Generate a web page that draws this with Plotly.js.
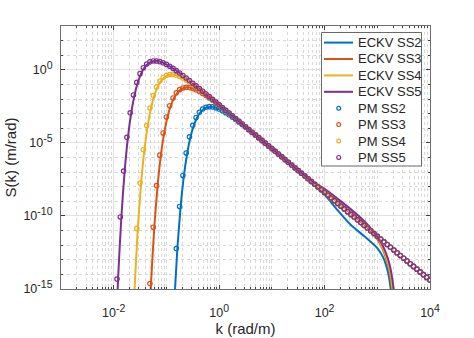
<!DOCTYPE html>
<html>
<head>
<meta charset="utf-8">
<script src="https://cdn.plot.ly/plotly-3.0.1.min.js"></script>
<style>html,body{margin:0;padding:0;background:#fff;}#chart{width:474px;height:338px;}</style>
</head>
<body>
<div id="chart"></div>
<script>
// ---- Pierson-Moskowitz markers (shared wavenumber grid, rad/m) ----
const kPM = [
  0.01155,0.01334,0.0154,0.01778,0.02054,0.02371,0.02738,0.03162,0.03652,0.04217,0.0487,0.05623,0.06494,0.07499,0.0866,
  0.1,0.1155,0.1334,0.154,0.1778,0.2054,0.2371,0.2738,0.3162,0.3652,0.4217,0.487,0.5623,0.6494,0.7499,0.866,
  1,1.155,1.334,1.54,1.778,2.054,2.371,2.738,3.162,3.652,4.217,4.87,5.623,6.494,7.499,8.66,
  10,11.55,13.34,15.4,17.78,20.54,23.71,27.38,31.62,36.52,42.17,48.7,56.23,64.94,74.99,86.6,
  100,115.5,133.4,154,177.8,205.4,237.1,273.8,316.2,365.2,421.7,487,562.3,649.4,749.9,866,
  1000,1155,1334,1540,1778,2054,2371,2738,3162,3652,4217,4870,5623,6494,7499,8660,
  10000
];
const pmSS2 = [
  null,null,null,null,null,null,null,null,null,null,null,null,null,null,null,
  null,null,null,5.89e-13,4.47e-10,5.89e-8,2.04e-6,2.6e-5,1.585e-4,5.47e-4,1.25e-3,2.08e-3,2.74e-3,3.02e-3,2.92e-3,2.55e-3,
  2.07e-3,1.59e-3,1.17e-3,8.36e-4,5.82e-4,3.99e-4,2.7e-4,1.8e-4,1.2e-4,7.91e-5,5.2e-5,3.41e-5,2.23e-5,1.46e-5,9.48e-6,6.18e-6,
  4.05e-6,2.63e-6,1.71e-6,1.11e-6,7.2e-7,4.68e-7,3.04e-7,1.97e-7,1.28e-7,8.32e-8,5.4e-8,3.51e-8,2.28e-8,1.48e-8,9.6e-9,6.24e-9,
  4.05e-9,2.63e-9,1.71e-9,1.11e-9,7.2e-10,4.68e-10,3.04e-10,1.97e-10,1.28e-10,8.32e-11,5.4e-11,3.51e-11,2.28e-11,1.48e-11,9.6e-12,6.24e-12,
  4.05e-12,2.63e-12,1.71e-12,1.11e-12,7.2e-13,4.68e-13,3.04e-13,1.97e-13,1.28e-13,8.32e-14,5.4e-14,3.51e-14,2.28e-14,1.48e-14,9.6e-15,6.24e-15,
  4.05e-15
];
const pmSS3 = [
  null,null,null,null,null,null,null,null,null,null,2.34e-15,1.7e-11,1.2e-8,1.45e-6,4.79e-5,
  5.92e-4,3.49e-3,0.0119,0.0268,0.0442,0.0575,0.0631,0.0607,0.053,0.0429,0.0329,0.0242,0.0172,0.012,8.2e-3,5.55e-3,
  3.71e-3,2.46e-3,1.63e-3,1.07e-3,7e-4,4.58e-4,2.99e-4,1.95e-4,1.27e-4,8.32e-5,5.4e-5,3.51e-5,2.28e-5,1.48e-5,9.6e-6,6.24e-6,
  4.05e-6,2.63e-6,1.71e-6,1.11e-6,7.2e-7,4.68e-7,3.04e-7,1.97e-7,1.28e-7,8.32e-8,5.4e-8,3.51e-8,2.28e-8,1.48e-8,9.6e-9,6.24e-9,
  4.05e-9,2.63e-9,1.71e-9,1.11e-9,7.2e-10,4.68e-10,3.04e-10,1.97e-10,1.28e-10,8.32e-11,5.4e-11,3.51e-11,2.28e-11,1.48e-11,9.6e-12,6.24e-12,
  4.05e-12,2.63e-12,1.71e-12,1.11e-12,7.2e-13,4.68e-13,3.04e-13,1.97e-13,1.28e-13,8.32e-14,5.4e-14,3.51e-14,2.28e-14,1.48e-14,9.6e-15,6.24e-15,
  4.05e-15
];
const pmSS4 = [
  null,null,null,null,null,null,1.41e-11,1.78e-8,3.39e-6,1.55e-4,2.45e-3,0.0174,0.0679,0.169,0.302,
  0.418,0.48,0.476,0.426,0.352,0.273,0.203,0.146,0.102,0.0702,0.0475,0.0318,0.0212,0.014,9.23e-3,6.05e-3,
  3.96e-3,2.59e-3,1.69e-3,1.1e-3,7.2e-4,4.68e-4,3.04e-4,1.97e-4,1.28e-4,8.32e-5,5.4e-5,3.51e-5,2.28e-5,1.48e-5,9.6e-6,6.24e-6,
  4.05e-6,2.63e-6,1.71e-6,1.11e-6,7.2e-7,4.68e-7,3.04e-7,1.97e-7,1.28e-7,8.32e-8,5.4e-8,3.51e-8,2.28e-8,1.48e-8,9.6e-9,6.24e-9,
  4.05e-9,2.63e-9,1.71e-9,1.11e-9,7.2e-10,4.68e-10,3.04e-10,1.97e-10,1.28e-10,8.32e-11,5.4e-11,3.51e-11,2.28e-11,1.48e-11,9.6e-12,6.24e-12,
  4.05e-12,2.63e-12,1.71e-12,1.11e-12,7.2e-13,4.68e-13,3.04e-13,1.97e-13,1.28e-13,8.32e-14,5.4e-14,3.51e-14,2.28e-14,1.48e-14,9.6e-15,6.24e-15,
  4.05e-15
];
const pmSS5 = [
  4.79e-15,8.51e-11,1.17e-7,2.4e-5,1.15e-3,0.0191,0.138,0.55,1.4,2.51,3.53,4.07,4.06,3.65,3.02,
  2.35,1.75,1.257,0.881,0.607,0.411,0.275,0.183,0.121,0.0798,0.0524,0.0343,0.0224,0.0146,9.6e-3,6.24e-3,
  4.05e-3,2.63e-3,1.71e-3,1.11e-3,7.2e-4,4.68e-4,3.04e-4,1.97e-4,1.28e-4,8.32e-5,5.4e-5,3.51e-5,2.28e-5,1.48e-5,9.6e-6,6.24e-6,
  4.05e-6,2.63e-6,1.71e-6,1.11e-6,7.2e-7,4.68e-7,3.04e-7,1.97e-7,1.28e-7,8.32e-8,5.4e-8,3.51e-8,2.28e-8,1.48e-8,9.6e-9,6.24e-9,
  4.05e-9,2.63e-9,1.71e-9,1.11e-9,7.2e-10,4.68e-10,3.04e-10,1.97e-10,1.28e-10,8.32e-11,5.4e-11,3.51e-11,2.28e-11,1.48e-11,9.6e-12,6.24e-12,
  4.05e-12,2.63e-12,1.71e-12,1.11e-12,7.2e-13,4.68e-13,3.04e-13,1.97e-13,1.28e-13,8.32e-14,5.4e-14,3.51e-14,2.28e-14,1.48e-14,9.6e-15,6.24e-15,
  4.05e-15
];

// ---- ECKV curves ----
const eckvK2 = [0.1397,0.1612,0.1862,0.215,0.2483,0.2867,0.3311,0.3824,0.4415,0.5099,0.5887,0.6799,0.7499,0.866,1,1.334,1.778,2.371,3.162,5.623,10,31.62,56.23,100,177.8,316.2,562.3,1000,1259,1585,1778,1995];
const eckvS2 = [7.4e-17,5.89e-13,4.47e-10,5.89e-8,2.04e-6,2.6e-5,1.585e-4,5.47e-4,1.25e-3,2.08e-3,2.74e-3,3.02e-3,2.92e-3,2.55e-3,2.07e-3,1.17e-3,5.82e-4,2.7e-4,1.2e-4,2.23e-5,4.05e-6,1.28e-7,2.09e-8,2.95e-9,2.4e-10,2.4e-11,4.17e-12,6.31e-13,1.78e-13,1.58e-14,1.41e-15,3.16e-17];
const eckvK3 = [0.04415,0.05099,0.05887,0.06799,0.07851,0.09067,0.1047,0.1209,0.1397,0.1612,0.1862,0.215,0.2483,0.3162,0.4217,0.5623,0.7499,1,1.778,3.162,10,31.62,56.23,100,177.8,316.2,562.3,794.3,1000,1259,1585,1778,1995];
const eckvS3 = [1.6e-20,2.34e-15,1.7e-11,1.2e-8,1.45e-6,4.79e-5,5.92e-4,3.49e-3,0.0119,0.0268,0.0442,0.0575,0.0631,0.053,0.0329,0.0172,8.2e-3,3.71e-3,7e-4,1.27e-4,4.05e-6,1.28e-7,2.34e-8,4.47e-9,8.51e-10,1.51e-10,2.63e-11,7.94e-12,2.51e-12,5.62e-13,5.01e-14,6.31e-15,2.51e-16];
const eckvK4 = [0.0215,0.02483,0.02867,0.03311,0.03824,0.04415,0.05099,0.05887,0.06799,0.07851,0.09067,0.1047,0.1209,0.1334,0.1778,0.2371,0.3162,0.4217,0.5623,0.7499,1,1.778,3.162,10,31.62,56.23,100,177.8,316.2,562.3,794.3,1000,1259,1585,1778,1995,2239];
const eckvS4 = [1.95e-21,8.9e-16,1.41e-11,1.78e-8,3.39e-6,1.55e-4,2.45e-3,0.0174,0.0679,0.169,0.302,0.418,0.48,0.476,0.352,0.203,0.102,0.0475,0.0212,9.23e-3,3.96e-3,7.2e-4,1.28e-4,4.05e-6,1.28e-7,2.4e-8,4.68e-9,8.91e-10,1.66e-10,3.02e-11,9.55e-12,3.16e-12,7.08e-13,7.08e-14,1e-14,5.01e-16,1e-17];
const eckvK5 = [0.01047,0.01209,0.01397,0.01612,0.01862,0.0215,0.02483,0.02867,0.03311,0.03824,0.04415,0.05099,0.05887,0.06799,0.0866,0.1155,0.154,0.2054,0.2738,0.3652,0.487,0.6494,1,3.162,10,31.62,56.23,100,177.8,316.2,562.3,794.3,1000,1259,1585,1778,1995,2239];
const eckvS5 = [9.1e-21,4.79e-15,8.51e-11,1.17e-7,2.4e-5,1.15e-3,0.0191,0.138,0.55,1.4,2.51,3.53,4.07,4.06,3.02,1.75,0.881,0.411,0.183,0.0798,0.0343,0.0146,4.05e-3,1.28e-4,4.05e-6,1.28e-7,2.6e-8,7.08e-9,1.48e-9,2.82e-10,4.47e-11,1.12e-11,3.98e-12,1e-12,1.26e-13,2.51e-14,2e-15,6.3e-17];

const seriesNames = ['SS2','SS3','SS4','SS5'];
const colors = ['#0072BD','#D95319','#EDB120','#7E2F8E'];
const xTickVals = [1e-2, 1e0, 1e2, 1e4];
const xTickExp = ['-2','0','2','4'];
const yTickVals = [1e-15, 1e-10, 1e-5, 1e0];
const yTickExp = ['-15','-10','-5','0'];

const eckvK = [eckvK2, eckvK3, eckvK4, eckvK5];
const eckvS = [eckvS2, eckvS3, eckvS4, eckvS5];
const pmS = [pmSS2, pmSS3, pmSS4, pmSS5];

const FONT = 'Liberation Sans, Arial, Helvetica, sans-serif';
const supLabel = e => '10<sup><span style="font-size:10.5px">' + e + '</span></sup>';

const traces = [];
for (let i = 0; i < 4; i++) {
  traces.push({x: eckvK[i], y: eckvS[i], type: 'scatter', mode: 'lines', name: 'ECKV ' + seriesNames[i],
    line: {color: colors[i], width: 2, shape: 'spline', smoothing: 0.6}});
}
for (let i = 0; i < 4; i++) {
  traces.push({x: kPM, y: pmS[i], type: 'scatter', mode: 'markers', name: 'PM ' + seriesNames[i],
    marker: {color: colors[i], symbol: 'circle-open', size: 4.4, line: {width: 1.2, color: colors[i]}}});
}

// minor grid positions (axis decoration)
const xMinor = [];
for (let e = -3; e <= 3; e++) for (let m = 1; m <= 9; m++) {
  const v = m * Math.pow(10, e);
  if (!(m === 1 && (e === -2 || e === 0 || e === 2))) xMinor.push(v);
}
const yMinor = [];
for (let e = -15; e <= 3; e++) if (e % 5 !== 0) yMinor.push(Math.pow(10, e));

// ---- hand-drawn legend box (pixel layout -> paper coords) ----
const PL = 61, PT = 26, PW = 369, PH = 263;
const px = v => (v - PL) / PW;
const py = v => (PT + PH - v) / PH;
const legendNames = traces.map(t => t.name);
const shapes = [{type: 'rect', xref: 'paper', yref: 'paper', x0: px(321.5), x1: px(421.5), y0: py(32.5), y1: py(166),
  line: {color: '#6a6a6a', width: 1}, fillcolor: '#ffffff', layer: 'above'}];
const annotations = [];
for (let j = 0; j < 8; j++) {
  const cy = 42.6 + j * 16.4;
  const c = colors[j % 4];
  if (j < 4) {
    shapes.push({type: 'line', xref: 'paper', yref: 'paper', x0: px(324), x1: px(353), y0: py(cy), y1: py(cy),
      line: {color: c, width: 2}, layer: 'above'});
  } else {
    shapes.push({type: 'circle', xref: 'paper', yref: 'paper', x0: px(336.8), x1: px(340.6), y0: py(cy + 1.9), y1: py(cy - 1.9),
      line: {color: c, width: 1.2}, fillcolor: 'rgba(0,0,0,0)', layer: 'above'});
  }
  annotations.push({xref: 'paper', yref: 'paper', x: px(355.5), y: py(cy), xanchor: 'left', yanchor: 'middle',
    text: legendNames[j], showarrow: false, font: {family: FONT, size: 13, color: '#262626'}});
}

const axisCommon = {
  type: 'log', showline: true, linecolor: '#6e6e6e', linewidth: 1, mirror: 'ticks',
  ticks: 'inside', ticklen: 4, tickcolor: '#404040', tickwidth: 1,
  showgrid: true, gridcolor: '#e2e2e2', gridwidth: 1, zeroline: false,
  tickfont: {family: FONT, size: 12.5, color: '#262626'},
  tickmode: 'array', automargin: false
};

const layout = {
  width: 474, height: 338,
  margin: {l: PL, r: 474 - PL - PW, t: PT, b: 338 - PT - PH, pad: 0},
  paper_bgcolor: '#ffffff', plot_bgcolor: '#ffffff',
  showlegend: false,
  xaxis: Object.assign({}, axisCommon, {
    range: [-3, 4], tickvals: xTickVals, ticktext: xTickExp.map(supLabel), ticklabelstandoff: 12,
    title: {text: 'k (rad/m)', font: {family: FONT, size: 15, color: '#262626'}, standoff: 3},
    minor: {tickmode: 'array', tickvals: xMinor, ticks: 'inside', ticklen: 2, tickcolor: '#404040',
      showgrid: true, gridcolor: '#d8d8d8', griddash: 'dot', gridwidth: 1}
  }),
  yaxis: Object.assign({}, axisCommon, {
    range: [-15, 3], tickvals: yTickVals, ticktext: yTickExp.map(supLabel), ticklabelstandoff: 5,
    title: {text: 'S(k) (m/rad)', font: {family: FONT, size: 15, color: '#262626'}, standoff: 3},
    minor: {tickmode: 'array', tickvals: yMinor, ticks: 'inside', ticklen: 2, tickcolor: '#404040',
      showgrid: true, gridcolor: '#d8d8d8', griddash: 'dot', gridwidth: 1}
  }),
  shapes: shapes,
  annotations: annotations
};

Plotly.newPlot('chart', traces, layout, {displayModeBar: false, staticPlot: true});
</script>
</body>
</html>
